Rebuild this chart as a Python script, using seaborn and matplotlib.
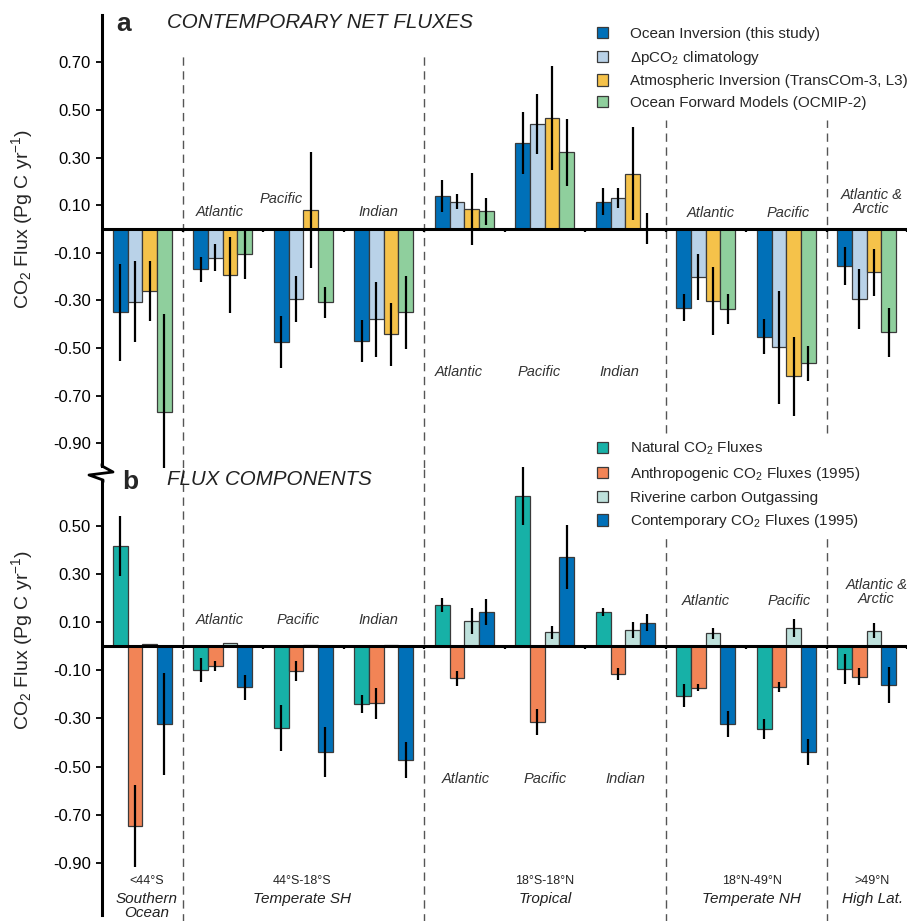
import numpy as np
import pandas as pd
import seaborn as sns
import matplotlib.pyplot as plt
from matplotlib.patches import Patch
from matplotlib.lines import Line2D
from matplotlib.ticker import FormatStrFormatter

# ---- data ----
regions = ['Southern Ocean', 'SH Atlantic', 'SH Pacific', 'SH Indian',
           'Trop Atlantic', 'Trop Pacific', 'Trop Indian',
           'NH Atlantic', 'NH Pacific', 'High Lat']

# panel a: contemporary net fluxes
sources_a = ['Ocean Inversion (this study)', r'$\Delta$pCO$_2$ climatology',
             'Atmospheric Inversion (TransCOm-3, L3)', 'Ocean Forward Models (OCMIP-2)']
ocean_inv = [-0.35, -0.17, -0.475, -0.47, 0.138, 0.36, 0.115, -0.33, -0.452, -0.154]
ocean_inv_err = [0.205, 0.053, 0.11, 0.088, 0.067, 0.13, 0.058, 0.058, 0.072, 0.08]
dpco2 = [-0.305, -0.12, -0.294, -0.38, 0.115, 0.44, 0.129, -0.203, -0.497, -0.294]
dpco2_err = [0.17, 0.057, 0.097, 0.156, 0.03, 0.126, 0.042, 0.097, 0.238, 0.124]
atm_inv = [-0.26, -0.193, 0.081, -0.443, 0.084, 0.465, 0.233, -0.301, -0.619, -0.182]
atm_inv_err = [0.125, 0.16, 0.244, 0.134, 0.15, 0.218, 0.197, 0.143, 0.167, 0.098]
ocmip = [-0.768, -0.105, -0.308, -0.35, 0.074, 0.322, 0.002, -0.336, -0.565, -0.434]
ocmip_err = [0.41, 0.103, 0.066, 0.152, 0.056, 0.14, 0.067, 0.063, 0.073, 0.103]
colors_a = ['#0070b8', '#b9d2e8', '#f5c24a', '#8fcf9d']

# panel b: flux components
sources_b = [r'Natural CO$_2$ Fluxes', r'Anthropogenic CO$_2$ Fluxes (1995)',
             'Riverine carbon Outgassing', r'Contemporary CO$_2$ Fluxes (1995)']
natural = [0.415, -0.10, -0.34, -0.24, 0.17, 0.622, 0.142, -0.206, -0.344, -0.095]
natural_err = [0.123, 0.05, 0.097, 0.036, 0.03, 0.12, 0.018, 0.048, 0.043, 0.062]
anthro = [-0.747, -0.082, -0.104, -0.237, -0.134, -0.314, -0.116, -0.173, -0.17, -0.128]
anthro_err = [0.17, 0.02, 0.04, 0.064, 0.03, 0.054, 0.023, 0.014, 0.02, 0.035]
river = [0.007, 0.011, 0.005, 0.004, 0.104, 0.057, 0.066, 0.053, 0.075, 0.064]
river_err = [0, 0, 0, 0, 0.052, 0.028, 0.032, 0.024, 0.036, 0.031]
contemp = [-0.323, -0.17, -0.44, -0.473, 0.142, 0.368, 0.097, -0.324, -0.438, -0.162]
contemp_err = [0.21, 0.052, 0.104, 0.075, 0.053, 0.133, 0.036, 0.054, 0.054, 0.075]
colors_b = ['#17b1a7', '#f28456', '#bee1dc', '#0070b8']

ticks_a = [0.7, 0.5, 0.3, 0.1, -0.1, -0.3, -0.5, -0.7, -0.9]
ticks_b = [0.5, 0.3, 0.1, -0.1, -0.3, -0.5, -0.7, -0.9]

# basin labels (text, x in group units, y in data units)
basins_a = [('Atlantic', 0.96, 0.071), ('Pacific', 1.72, 0.126), ('Indian', 2.93, 0.071),
            ('Atlantic', 3.93, -0.60), ('Pacific', 4.93, -0.60), ('Indian', 5.93, -0.60),
            ('Atlantic', 7.06, 0.068), ('Pacific', 8.02, 0.068), ('Atlantic &\nArctic', 9.06, 0.115)]
basins_b = [('Atlantic', 0.96, 0.108), ('Pacific', 1.94, 0.108), ('Indian', 2.93, 0.108),
            ('Atlantic', 4.02, -0.552), ('Pacific', 5.01, -0.552), ('Indian', 6.0, -0.552),
            ('Atlantic', 7.0, 0.188), ('Pacific', 8.04, 0.188), ('Atlantic &\nArctic', 9.12, 0.224)]
zones = [('<44°S', 'Southern\nOcean', 0.05), ('44°S-18°S', 'Temperate SH', 1.98),
         ('18°S-18°N', 'Tropical', 5.0), ('18°N-49°N', 'Temperate NH', 7.57),
         ('>49°N', 'High Lat.', 9.07)]


def long_table(sources, values, errors):
    rows = []
    for s, vals, errs in zip(sources, values, errors):
        for r, v, e in zip(regions, vals, errs):
            rows.append({'region': r, 'source': s, 'flux': v, 'err': e})
    return pd.DataFrame(rows)


tab_a = long_table(sources_a, [ocean_inv, dpco2, atm_inv, ocmip],
                   [ocean_inv_err, dpco2_err, atm_inv_err, ocmip_err])
tab_b = long_table(sources_b, [natural, anthro, river, contemp],
                   [natural_err, anthro_err, river_err, contemp_err])

sns.set_style('white')
plt.rcParams['font.family'] = ['Liberation Sans', 'DejaVu Sans']
plt.rcParams['mathtext.fontset'] = 'custom'
plt.rcParams['mathtext.rm'] = 'Liberation Sans'
plt.rcParams['mathtext.it'] = 'Liberation Sans:italic'
plt.rcParams['axes.unicode_minus'] = False

W, H = 911, 921
fig = plt.figure(figsize=(W / 100, H / 100), dpi=100)


def fx(x):
    return x / W


def fy(y):
    return 1 - y / H


ax_a = fig.add_axes([fx(102), fy(468), fx(907) - fx(102), fy(15) - fy(468)])
ax_b = fig.add_axes([fx(102), fy(915), fx(907) - fx(102), fy(468) - fy(915)])


def draw_panel(ax, tab, sources, colors, ylim, ticks):
    sns.barplot(data=tab, x='region', y='flux', hue='source', order=regions,
                hue_order=sources, palette=colors, width=0.73, errorbar=None,
                edgecolor='#3a3a3a', linewidth=0.9, saturation=1, legend=False, ax=ax)
    # error bars on top of the bars
    xs, ys, es = [], [], []
    for cont, src in zip(ax.containers, sources):
        sub = tab[tab['source'] == src].set_index('region')
        for bar, reg in zip(cont, regions):
            xs.append(bar.get_x() + bar.get_width() / 2)
            ys.append(sub.loc[reg, 'flux'])
            es.append(sub.loc[reg, 'err'])
    eb = ax.errorbar(xs, ys, yerr=es, fmt='none', ecolor='black', elinewidth=1.6,
                     capsize=0, zorder=4)
    for ln in eb.lines[2]:
        ln.set_clip_on(False)
    ax.axhline(0, color='black', lw=2.2, zorder=5)
    bounds = np.arange(0.5, len(regions), 1.0)
    ax.vlines(bounds, -0.014, 0, color='black', lw=1.6, zorder=5)
    ax.set_xlim(-0.5, len(regions) - 0.5)
    ax.set_ylim(*ylim)
    ax.set_yticks(ticks)
    ax.yaxis.set_major_formatter(FormatStrFormatter('%.2f'))
    ax.tick_params(axis='y', direction='out', length=4, width=1.3, labelsize=12,
                   pad=4, colors='black', left=True)
    ax.tick_params(axis='x', bottom=False, labelbottom=False)
    ax.set_xlabel('')
    ax.set_ylabel('')
    for s in ['top', 'right', 'bottom']:
        ax.spines[s].set_visible(False)
    ax.spines['left'].set_linewidth(2.2)
    ax.spines['left'].set_color('black')


draw_panel(ax_a, tab_a, sources_a, colors_a, (-1.004, 0.899), ticks_a)
draw_panel(ax_b, tab_b, sources_b, colors_b, (-1.116, 0.739), ticks_b)

# break in the shared y spine
ax_a.spines['left'].set_bounds(-0.996, 0.899)
ax_b.spines['left'].set_bounds(-1.116, 0.689)
zig_x = [102, 102, 113, 89, 103, 103]
zig_y = [464, 466, 472, 475, 480, 482]
fig.add_artist(Line2D([fx(v) for v in zig_x], [fy(v) for v in zig_y],
                      color='black', lw=2.0, transform=fig.transFigure))

# dashed zone dividers
dash = dict(color='#555555', lw=1.0, ls=(0, (6, 4)), zorder=0)
for b in [0.5, 3.5]:
    ax_a.axvline(b, ymin=0, ymax=0.916, **dash)
    ax_b.axvline(b, ymin=-0.02, ymax=1.0, clip_on=False, **dash)
for b in [6.5, 8.5]:
    ax_a.axvline(b, ymin=0.077, ymax=0.768, **dash)
    ax_b.axvline(b, ymin=-0.02, ymax=0.846, clip_on=False, **dash)

# basin labels
for ax, labels in [(ax_a, basins_a), (ax_b, basins_b)]:
    for txt, x, y in labels:
        ax.text(x, y, txt, ha='center', va='center', style='italic', fontsize=10.5,
                color='#333333', linespacing=1.0)

# zone labels under panel b (the reference cuts "Ocean" at the lower edge)
for lat, name, x in zones:
    ax_b.text(x, -0.975, lat, ha='center', va='center', fontsize=9, color='#222222')
    ax_b.text(x, -1.022, name, ha='center', va='top', style='italic', fontsize=11,
              color='#222222', linespacing=1.0, clip_on=False)

# panel letters and titles
fig.text(fx(116), fy(24), 'a', fontsize=19, fontweight='bold', va='center', ha='left')
fig.text(fx(167), fy(23), 'CONTEMPORARY NET FLUXES', fontsize=14.8, style='italic',
         va='center', ha='left', color='#222222')
fig.text(fx(122), fy(482), 'b', fontsize=19, fontweight='bold', va='center', ha='left')
fig.text(fx(167), fy(479), 'FLUX COMPONENTS', fontsize=14.8, style='italic',
         va='center', ha='left', color='#222222')

# y labels
ylab = r'CO$_2$ Flux (Pg C yr$^{-1}$)'
fig.text(fx(22), fy(219), ylab, rotation=90, ha='center', va='center', fontsize=14)
fig.text(fx(22), fy(640), ylab, rotation=90, ha='center', va='center', fontsize=14)

# legends
for sources, colors, top in [(sources_a, colors_a, 27), (sources_b, colors_b, 440)]:
    handles = [Patch(facecolor=c, edgecolor='#3a3a3a', linewidth=0.9) for c in colors]
    fig.legend(handles, sources, loc='upper left', bbox_to_anchor=(fx(597), fy(top)),
               frameon=False, fontsize=11, handlelength=0.75, handleheight=0.75,
               handletextpad=1.4, labelspacing=0.5, borderpad=0, borderaxespad=0)

fig.savefig('out.png', dpi=100)
